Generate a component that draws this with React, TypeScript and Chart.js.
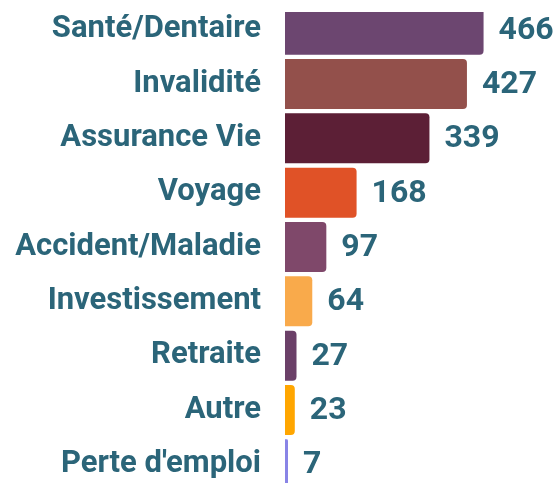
import React, { useEffect, useRef } from "react";
import { Chart, registerables } from "chart.js";

Chart.register(...registerables);

const categories = [
  "Santé/Dentaire",
  "Invalidité",
  "Assurance Vie",
  "Voyage",
  "Accident/Maladie",
  "Investissement",
  "Retraite",
  "Autre",
  "Perte d'emploi",
];
const values = [466, 427, 339, 168, 97, 64, 27, 23, 7];
const barColors = [
  "#6c4670",
  "#93504b",
  "#5c1f36",
  "#e05227",
  "#7f486a",
  "#f9aa4b",
  "#6b4068",
  "#ffa600",
  "#8984e6",
];
const TEXT = "#2b6579";

const valueLabels = {
  id: "valueLabels",
  afterDatasetsDraw(chart: any) {
    const ctx = chart.ctx;
    const meta = chart.getDatasetMeta(0);
    ctx.save();
    ctx.fillStyle = TEXT;
    ctx.font = "bold 32px Roboto";
    ctx.textAlign = "left";
    ctx.textBaseline = "middle";
    meta.data.forEach((bar: any, i: number) => {
      ctx.fillText(String(values[i]), bar.x + 15, bar.y + 1);
    });
    ctx.restore();
  },
};

export default function App() {
  const ref = useRef<HTMLCanvasElement | null>(null);
  useEffect(() => {
    if (!ref.current) return;
    const chart = new Chart(ref.current, {
      type: "bar",
      data: {
        labels: categories,
        datasets: [
          {
            data: values,
            backgroundColor: barColors,
            borderRadius: 4,
            borderSkipped: "start",
            barPercentage: 0.92,
            categoryPercentage: 1,
          },
        ],
      },
      options: {
        indexAxis: "y",
        responsive: false,
        animation: false,
        layout: { padding: { top: 2.5, bottom: 2.5, left: 0, right: 0 } },
        plugins: { legend: { display: false }, tooltip: { enabled: false } },
        scales: {
          x: { display: false, min: 0, max: 636 },
          y: {
            grid: { display: false, drawTicks: false },
            border: { display: false },
            afterFit(scale: any) {
              scale.width = 285;
              scale.paddingTop = 0;
              scale.paddingBottom = 0;
            },
            ticks: {
              padding: 24,
              color: TEXT,
              font: { family: "Roboto", weight: "bold", size: 31 },
            },
          },
        },
      },
      plugins: [valueLabels],
    });
    return () => chart.destroy();
  }, []);
  return (
    <div
      style={{
        position: "fixed",
        top: 12,
        left: 0,
        width: 556,
        height: 471,
        overflow: "hidden",
        background: "#fff",
      }}
    >
      <canvas
        ref={ref}
        width={556}
        height={494}
        style={{ position: "absolute", top: -12, left: 0, width: 556, height: 494 }}
      />
    </div>
  );
}
